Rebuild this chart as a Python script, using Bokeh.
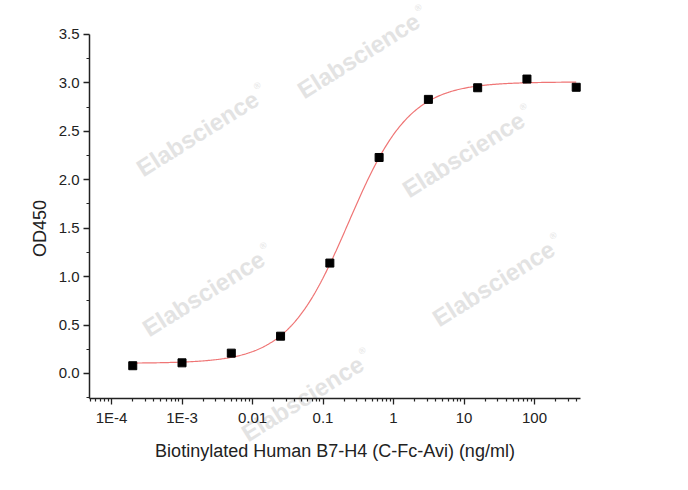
import numpy as np
from bokeh.plotting import figure
from bokeh.models import FixedTicker, CustomJSTickFormatter, PrintfTickFormatter, Label, Range1d, ColumnDataSource
from bokeh.embed import file_html
from bokeh.resources import INLINE

# ---- data ----
conc = [0.0002, 0.001, 0.005, 0.025, 0.125, 0.625, 3.125, 15.625, 78.125, 390.625]
od450 = [0.08, 0.11, 0.21, 0.385, 1.14, 2.23, 2.83, 2.95, 3.04, 2.955]

# 4-parameter logistic fit parameters
fit_bottom = 0.105
fit_top = 3.01
fit_ec50 = 0.23
fit_hill = 1.0

x_ticks = [1e-4, 1e-3, 1e-2, 1e-1, 1, 10, 100]
x_tick_labels = ["1E-4", "1E-3", "0.01", "0.1", "1", "10", "100"]
y_ticks = [0.0, 0.5, 1.0, 1.5, 2.0, 2.5, 3.0, 3.5]

x_title = "Biotinylated Human B7-H4 (C-Fc-Avi) (ng/ml)"
y_title = "OD450"
watermark = "Elabscience"
reg_mark = "®"

FONT = "Liberation Sans"
W, H = 672, 474

# axis extents (data units) and the wider frame that lets watermarks run past the axes
x_axis_bounds = (4.88e-5, 449)
y_axis_bounds = (-0.258, 3.5)

p = figure(width=W, height=H, x_axis_type="log",
           x_range=Range1d(2.66e-6, 9070), y_range=Range1d(-1.043, 3.851),
           output_backend="svg", toolbar_location=None,
           min_border_left=0, min_border_right=0,
           min_border_top=0, min_border_bottom=0)
p.outline_line_color = None
p.xgrid.visible = False
p.ygrid.visible = False
p.background_fill_color = "white"
p.border_fill_color = "white"

# watermarks (screen px, from top-left of the canvas)
wm_centers = [(197, 133), (358, 55), (463, 154), (203, 293), (493, 283), (302, 398)]
ang = np.deg2rad(32)
ux, uy = np.cos(ang), np.sin(ang)
for (cx, cy) in wm_centers:
    sx, sy = cx, H - cy
    p.add_layout(Label(x=sx, y=sy, x_units="screen", y_units="screen", text=watermark,
                       angle=32, angle_units="deg", text_align="center", text_baseline="middle",
                       text_font=FONT, text_font_style="bold", text_font_size="24px",
                       text_color="#e3e3e3", level="underlay"))
    rx = sx + ux * 76 - uy * 9
    ry = sy + uy * 76 + ux * 9
    p.add_layout(Label(x=rx, y=ry, x_units="screen", y_units="screen", text=reg_mark,
                       angle=32, angle_units="deg", text_align="center", text_baseline="middle",
                       text_font=FONT, text_font_size="9px",
                       text_color="#e3e3e3", level="underlay"))

# fitted curve
xs = np.logspace(np.log10(conc[0]), np.log10(conc[-1]), 400)
ys = fit_bottom + (fit_top - fit_bottom) / (1 + (fit_ec50 / xs) ** fit_hill)
p.line(xs, ys, line_color="#ef7575", line_width=1.2)

src = ColumnDataSource(dict(x=conc, y=od450))
p.scatter("x", "y", source=src, marker="square", size=8, fill_color="black", line_color="black")

# axes
minor = [m * 10.0 ** e for e in range(-5, 3) for m in range(2, 10)
         if x_axis_bounds[0] <= m * 10.0 ** e <= x_axis_bounds[1]]
p.xaxis.ticker = FixedTicker(ticks=x_ticks, minor_ticks=minor)
p.xaxis.formatter = CustomJSTickFormatter(args=dict(tv=x_ticks, lab=x_tick_labels), code="""
for (let i = 0; i < tv.length; i++) {
  if (Math.abs(Math.log10(tick) - Math.log10(tv[i])) < 1e-6) return lab[i];
}
return "";
""")
y_minor = [v + 0.25 for v in y_ticks[:-1]] + [-0.25]
p.yaxis.ticker = FixedTicker(ticks=y_ticks, minor_ticks=y_minor)
p.yaxis.formatter = PrintfTickFormatter(format="%.1f")

p.xaxis.bounds = x_axis_bounds
p.yaxis.bounds = y_axis_bounds
p.xaxis.fixed_location = y_axis_bounds[0]
p.yaxis.fixed_location = x_axis_bounds[0]

for ax in (p.xaxis[0], p.yaxis[0]):
    ax.axis_line_color = "#222222"
    ax.axis_line_width = 1.5
    ax.major_tick_line_color = "#222222"
    ax.major_tick_line_width = 1.3
    ax.minor_tick_line_color = "#222222"
    ax.minor_tick_line_width = 1.2
    ax.major_tick_out = 6
    ax.major_tick_in = 0
    ax.minor_tick_out = 3
    ax.minor_tick_in = 0
    ax.major_label_text_font = FONT
    ax.major_label_text_font_size = "15px"
    ax.major_label_text_color = "#222222"

p.xaxis.major_label_standoff = 5
p.yaxis.major_label_standoff = 4

# axis titles
p.add_layout(Label(x=334.5, y=H - 450, x_units="screen", y_units="screen", text=x_title,
                   text_align="center", text_baseline="alphabetic",
                   text_font=FONT, text_font_size="18px", text_color="#222222"))
p.add_layout(Label(x=39, y=H - 228, x_units="screen", y_units="screen", text=y_title,
                   angle=90, angle_units="deg", text_align="center", text_baseline="middle",
                   text_font=FONT, text_font_size="18px", text_color="#222222"))

open("out.html", "w").write(file_html(p, INLINE))
